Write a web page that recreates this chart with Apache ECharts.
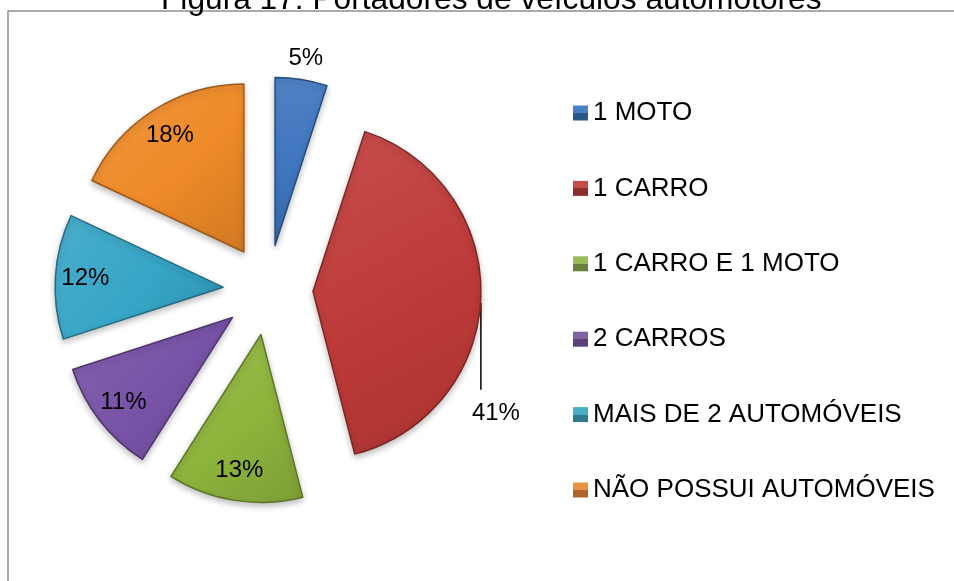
<!DOCTYPE html>
<html>
<head>
<meta charset="utf-8">
<script src="https://cdn.jsdelivr.net/npm/echarts@6/dist/echarts.min.js"></script>
<style>
  html, body { margin: 0; padding: 0; background: #fff; }
  #chart { width: 954px; height: 581px; }
</style>
</head>
<body>
<div id="chart"></div>
<script>
// dados do gráfico
const categorias = ['1 MOTO', '1 CARRO', '1 CARRO E 1 MOTO', '2 CARROS', 'MAIS DE 2 AUTOMÓVEIS', 'NÃO POSSUI AUTOMÓVEIS'];
const valores = [5, 41, 13, 11, 12, 18];

// cores: [fatia, claro, escuro]
const cores = [
    ['#3E75BE', '#4A80C4', '#2D5688'],
    ['#BE3A38', '#C74B49', '#8C2E2C'],
    ['#8EB43C', '#9BBB59', '#6A803A'],
    ['#7752A6', '#8064A2', '#5A3F78'],
    ['#36A5C6', '#4BACC6', '#2E7A8E'],
    ['#EE8A28', '#E8923F', '#B06428']
];

const fonte = 'Arial, "Liberation Sans", sans-serif';

// mistura com branco (k>0) ou preto (k<0)
const tom = (hex, k) => {
    const n = parseInt(hex.slice(1), 16);
    const rgb = [(n >> 16) & 255, (n >> 8) & 255, n & 255].map(v =>
        Math.round(k > 0 ? v + (255 - v) * k : v * (1 + k)));
    return 'rgb(' + rgb.join(',') + ')';
};

const gradFatia = (c) => ({
    type: 'linear', x: 0, y: 0, x2: 1, y2: 1,
    colorStops: [
        { offset: 0, color: tom(c, 0.1) },
        { offset: 0.55, color: c },
        { offset: 1, color: tom(c, -0.12) }
    ]
});

const gradLegenda = (claro, escuro) => ({
    type: 'linear', x: 0, y: 0, x2: 0, y2: 1,
    colorStops: [
        { offset: 0, color: claro }, { offset: 0.5, color: claro },
        { offset: 0.5, color: escuro }, { offset: 1, color: escuro }
    ]
});

const centro = [268, 290];
const raio = 168;
const explosao = 45;

const chart = echarts.init(document.getElementById('chart'));

chart.setOption({
    animation: false,
    title: {
        text: 'Figura 17: Portadores de veículos automotores',
        left: 161,
        top: -16,
        padding: 0,
        textStyle: { fontFamily: fonte, fontSize: 31.7, fontWeight: 'normal', color: '#000' }
    },
    graphic: [{
        type: 'rect',
        shape: { x: 8, y: 11, width: 960, height: 600 },
        style: { fill: 'none', stroke: '#8f8f8f', lineWidth: 1.5 },
        silent: true,
        z: -1
    }],
    legend: {
        orient: 'vertical',
        left: 573,
        top: 98,
        padding: 0,
        itemWidth: 15,
        itemHeight: 15,
        itemGap: 45.4,
        icon: 'rect',
        selectedMode: false,
        textStyle: { fontFamily: fonte, fontSize: 26, color: '#000', lineHeight: 30 },
        data: categorias.map((n, i) => ({
            name: n,
            itemStyle: { color: gradLegenda(cores[i][1], cores[i][2]), borderWidth: 0 }
        }))
    },
    series: [
        {
            type: 'pie',
            center: centro,
            radius: [0, raio],
            startAngle: 90,
            selectedMode: 'multiple',
            selectedOffset: explosao,
            avoidLabelOverlap: false,
            silent: true,
            emphasis: { disabled: true },
            itemStyle: {
                borderWidth: 1.5,
                shadowBlur: 6,
                shadowOffsetY: 3,
                shadowColor: 'rgba(0,0,0,0.25)'
            },
            label: {
                show: true,
                position: 'outside',
                formatter: '{c}%',
                fontFamily: fonte,
                fontSize: 24,
                color: '#000'
            },
            labelLine: { show: false, length: 22, length2: 0 },
            labelLayout: function (p) {
                if (p.dataIndex === 0) {
                    return { dx: -4, align: 'center', verticalAlign: 'middle' };
                }
                if (p.dataIndex === 1 && p.labelLinePoints) {
                    const p0 = p.labelLinePoints[0];
                    return {
                        dx: 10, dy: 117,
                        align: 'center', verticalAlign: 'middle',
                        labelLinePoints: [[p0[0], p0[1] + 6], [p0[0], p0[1] + 93], [p0[0], p0[1] + 93]]
                    };
                }
                return {};
            },
            data: categorias.map((n, i) => ({
                name: n,
                value: valores[i],
                selected: true,
                itemStyle: { color: gradFatia(cores[i][0]), borderColor: tom(cores[i][0], -0.35) },
                label: { show: i < 2 },
                labelLine: i === 1
                    ? { show: true, length: 0, length2: 0, lineStyle: { color: '#000', width: 1.5 } }
                    : { show: false }
            }))
        },
        {
            // série transparente só para os rótulos internos
            type: 'pie',
            center: centro,
            radius: [88, 182],
            startAngle: 90,
            selectedMode: 'multiple',
            selectedOffset: explosao,
            silent: true,
            emphasis: { disabled: true },
            itemStyle: { color: 'rgba(0,0,0,0)' },
            label: {
                show: true,
                position: 'inside',
                formatter: '{c}%',
                fontFamily: fonte,
                fontSize: 24,
                color: '#000'
            },
            labelLine: { show: false },
            data: categorias.map((n, i) => ({
                name: n,
                value: valores[i],
                selected: true,
                label: { show: i >= 2 }
            }))
        }
    ]
});
</script>
</body>
</html>
